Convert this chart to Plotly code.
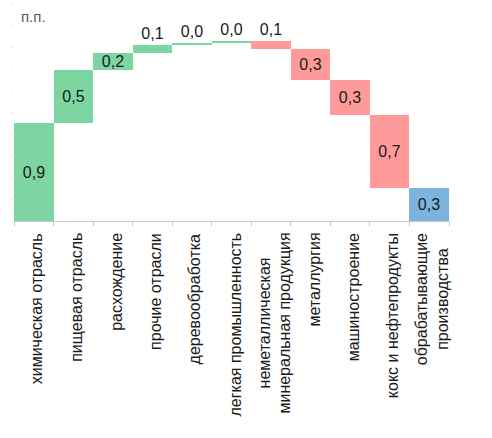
import numpy as np
import plotly.graph_objects as go

categories = ["химическая отрасль", "пищевая отрасль", "расхождение", "прочие отрасли",
              "деревообработка", "легкая промышленность",
              "неметаллическая<br>минеральная продукция", "металлургия",
              "машиностроение", "кокс и нефтепродукты",
              "обрабатывающие<br>производства"]
changes = [0.905, 0.487, 0.157, 0.071, 0.021, 0.016, -0.074, -0.283, -0.323, -0.677]
text_pos = ["inside", "inside", "inside", "outside", "outside", "outside",
            "outside", "inside", "inside", "inside", "inside"]

GREEN = "#7DD5A1"
RED = "#FF9A9A"
BLUE = "#7DB4DD"
FONT = "Liberation Sans, Arial, sans-serif"

cum = np.cumsum(changes)
prev = np.concatenate([[0.0], cum[:-1]])
total = float(cum[-1])

bases, heights, colors, values = [], [], [], []
for v, p, c in zip(changes, prev, cum):
    bases.append(min(p, c))
    heights.append(abs(v))
    colors.append(GREEN if v >= 0 else RED)
    values.append(v)
bases.append(0.0)
heights.append(total)
colors.append(BLUE)
values.append(total)

labels = [f"{abs(v):.1f}".replace(".", ",") for v in values]
xs = list(range(len(categories)))

fig = go.Figure(go.Bar(
    x=xs, y=heights, base=bases,
    marker=dict(color=colors, line=dict(width=0)),
    text=labels, textposition=text_pos, textangle=0,
    constraintext="none", cliponaxis=False,
    textfont=dict(family=FONT, size=16, color="#1a1a1a"),
    insidetextanchor="middle",
    hoverinfo="skip",
))

annotations = [dict(text=c, x=i, y=0, xref="x", yref="paper", xanchor="center",
                    yanchor="top", yshift=-10, xshift=3, textangle=-90, align="center",
                    showarrow=False, font=dict(family=FONT, size=16, color="#1a1a1a"))
               for i, c in enumerate(categories)]
annotations.append(dict(text="п.п.", x=0.012, y=0.99, xref="paper", yref="paper",
                        xanchor="left", yanchor="top", showarrow=False,
                        font=dict(family=FONT, size=15, color="#595959")))

fig.update_layout(
    width=492, height=438,
    margin=dict(l=14, r=43, t=4, b=217),
    paper_bgcolor="white", plot_bgcolor="white",
    bargap=0, showlegend=False,
    annotations=annotations,
    xaxis=dict(type="linear", range=[-0.5, len(categories) - 0.5], showticklabels=False,
               tickmode="array", tickvals=[i - 0.5 for i in range(len(categories) + 1)],
               ticks="outside", ticklen=4, tickcolor="#c8c8c8",
               showline=True, linecolor="#c8c8c8", linewidth=1, showgrid=False, zeroline=False),
    yaxis=dict(range=[0, 2.0], dtick=0.2, showticklabels=False, showgrid=False,
               zeroline=False, showline=False, ticks="outside", ticklen=2,
               tickcolor="#e6e6e6"),
)

fig.write_html("out.html")
